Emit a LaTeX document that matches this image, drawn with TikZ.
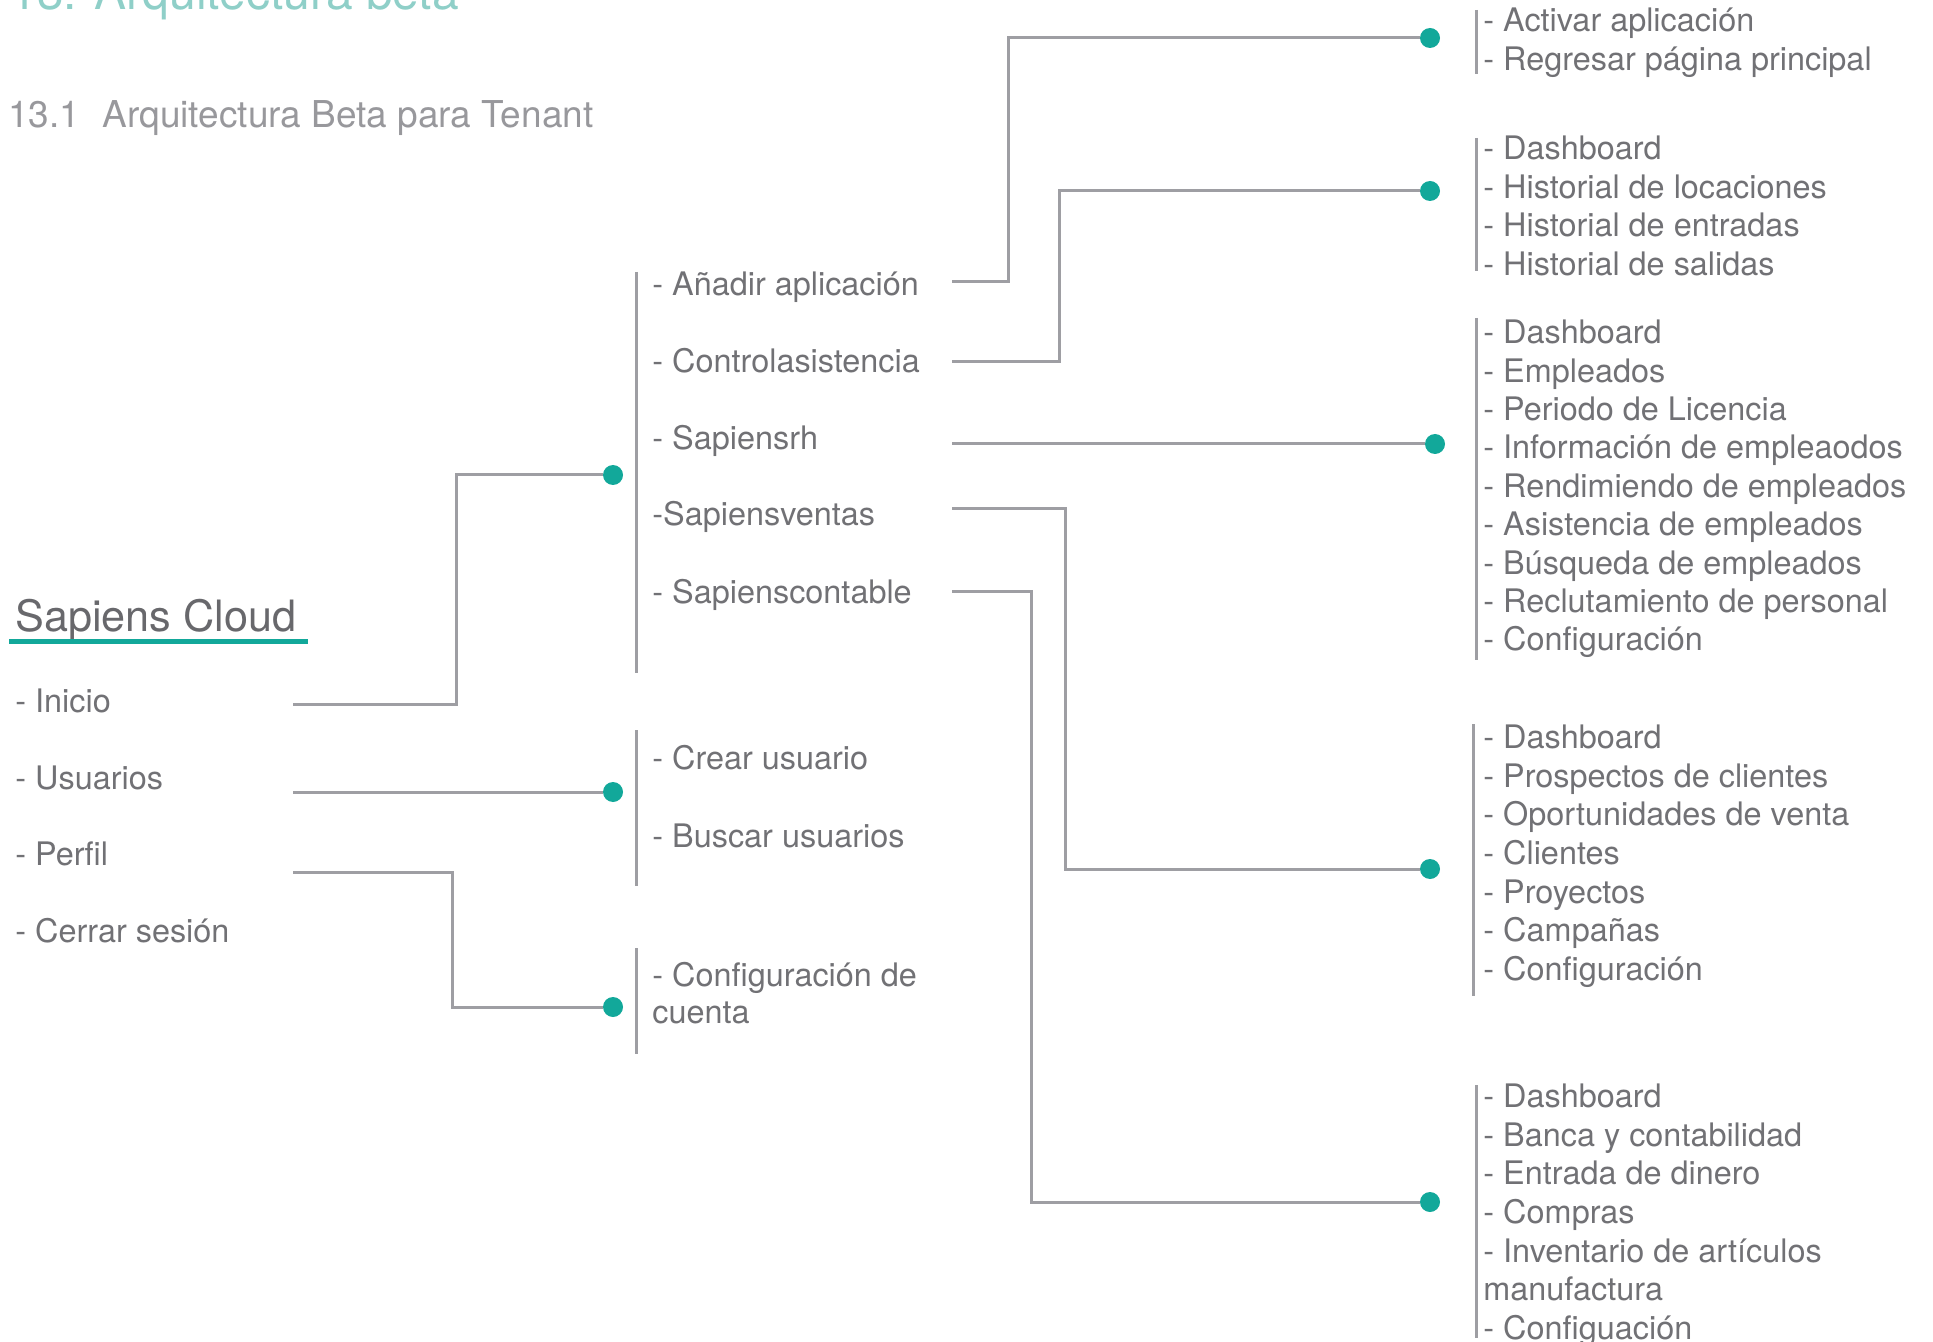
\documentclass[tikz,border=0pt]{standalone}
\usepackage{fontspec}
\setmainfont{TeX Gyre Heros}
\definecolor{txtgray}{HTML}{717175}
\definecolor{subgray}{HTML}{98989C}
\definecolor{linegray}{HTML}{9E9EA3}
\definecolor{dotteal}{HTML}{12A89A}
\definecolor{titleteal}{HTML}{8FCFC8}
\definecolor{headgray}{HTML}{68686C}
\begin{document}
\begin{tikzpicture}[x=0.5pt,y=-0.5pt,
  item/.style={anchor=west,inner sep=0pt,text=txtgray,font=\fontsize{16.2}{19}\selectfont,text height=11.63pt,text depth=0pt},
  conn/.style={draw=linegray,line width=1.5pt},
  bar/.style={draw=linegray,line width=1.5pt},
  dot/.style={circle,fill=dotteal,inner sep=0pt,minimum size=10pt}]
\useasboundingbox (0,0) rectangle (1933,1342);

% headings
\node[anchor=base west,inner sep=0pt,text=titleteal,font=\fontsize{24}{28}\selectfont] (title) at (10,10) {13. Arquitectura beta};
\node[anchor=base west,inner sep=0pt,text=subgray,font=\fontsize{18.5}{22}\selectfont] (subtitle) at (8,128) {13.1\hspace{0.6em}Arquitectura Beta para Tenant};
\node[anchor=base west,inner sep=0pt,text=headgray,font=\fontsize{21.6}{26}\selectfont] (root) at (15,631) {Sapiens Cloud};
\draw[dotteal,line width=2.5pt] (9,641) -- (308,641);

% left items
\node[item] (l1) at (15,701) {- Inicio};
\node[item] (l2) at (15,778) {- Usuarios};
\node[item] (l3) at (15,854) {- Perfil};
\node[item] (l4) at (15,931) {- Cerrar sesión};

% middle items
\node[item] (m1) at (652,284) {- Añadir aplicación};
\node[item] (m2) at (652,361) {- Controlasistencia};
\node[item] (m3) at (652,438) {- Sapiensrh};
\node[item] (m4) at (652,514) {-Sapiensventas};
\node[item] (m5) at (652,592) {- Sapienscontable};
\node[item] (u1) at (652,758) {- Crear usuario};
\node[item] (u2) at (652,836) {- Buscar usuarios};
\node[item] (c1) at (652,975) {- Configuración de};
\node[item] (c2) at (652,1012) {cuenta};

% middle bars
\draw[bar] (636,272) -- (636,673);
\draw[bar] (636,730) -- (636,886);
\draw[bar] (636,948) -- (636,1054);

% right groups
\foreach \t [count=\i] in {- Activar aplicación,- Regresar página principal}
  \node[item] (ga-\i) at (1483,{20+(\i-1)*39}) {\t};
\foreach \t [count=\i] in {- Dashboard,- Historial de locaciones,- Historial de entradas,- Historial de salidas}
  \node[item] (gb-\i) at (1483,{148+(\i-1)*38.5}) {\t};
\foreach \t [count=\i] in {- Dashboard,- Empleados,- Periodo de Licencia,- Información de empleaodos,- Rendimiendo de empleados,- Asistencia de empleados,- Búsqueda de empleados,- Reclutamiento de personal,- Configuración}
  \node[item] (gc-\i) at (1483,{332+(\i-1)*38.4}) {\t};
\foreach \t [count=\i] in {- Dashboard,- Prospectos de clientes,- Oportunidades de venta,- Clientes,- Proyectos,- Campañas,- Configuración}
  \node[item] (gd-\i) at (1483,{737+(\i-1)*38.6}) {\t};
\foreach \t [count=\i] in {- Dashboard,- Banca y contabilidad,- Entrada de dinero,- Compras,- Inventario de artículos,manufactura,- Configuación}
  \node[item] (ge-\i) at (1483,{1096+(\i-1)*38.6}) {\t};

% right bars
\draw[bar] (1476,10) -- (1476,74);
\draw[bar] (1476,138) -- (1476,271);
\draw[bar] (1476,318) -- (1476,660);
\draw[bar] (1473,724) -- (1473,996);
\draw[bar] (1476,1085) -- (1476,1338);

% dots
\node[dot] (dA) at (613,475) {};
\node[dot] (dU) at (613,792) {};
\node[dot] (dP) at (613,1007) {};
\node[dot] (r1) at (1430,38) {};
\node[dot] (r2) at (1430,191) {};
\node[dot] (r3) at (1435,444) {};
\node[dot] (r4) at (1430,869) {};
\node[dot] (r5) at (1430,1202) {};

% connector start points
\coordinate (l1o) at (293,704);
\coordinate (l2o) at (293,792);
\coordinate (l3o) at (293,872);
\coordinate (m1o) at (952,282);
\coordinate (m2o) at (952,362);
\coordinate (m3o) at (952,444);
\coordinate (m4o) at (952,508);
\coordinate (m5o) at (952,591);

% connectors
\draw[conn] (l1o) -| (456,475) -- (dA);
\draw[conn] (l2o) -- (dU);
\draw[conn] (l3o) -| (452,1007) -- (dP);
\draw[conn] (m1o) -| (1008,38) -- (r1);
\draw[conn] (m2o) -| (1059,191) -- (r2);
\draw[conn] (m3o) -- (r3);
\draw[conn] (m4o) -| (1065,869) -- (r4);
\draw[conn] (m5o) -| (1031,1202) -- (r5);
\end{tikzpicture}
\end{document}
